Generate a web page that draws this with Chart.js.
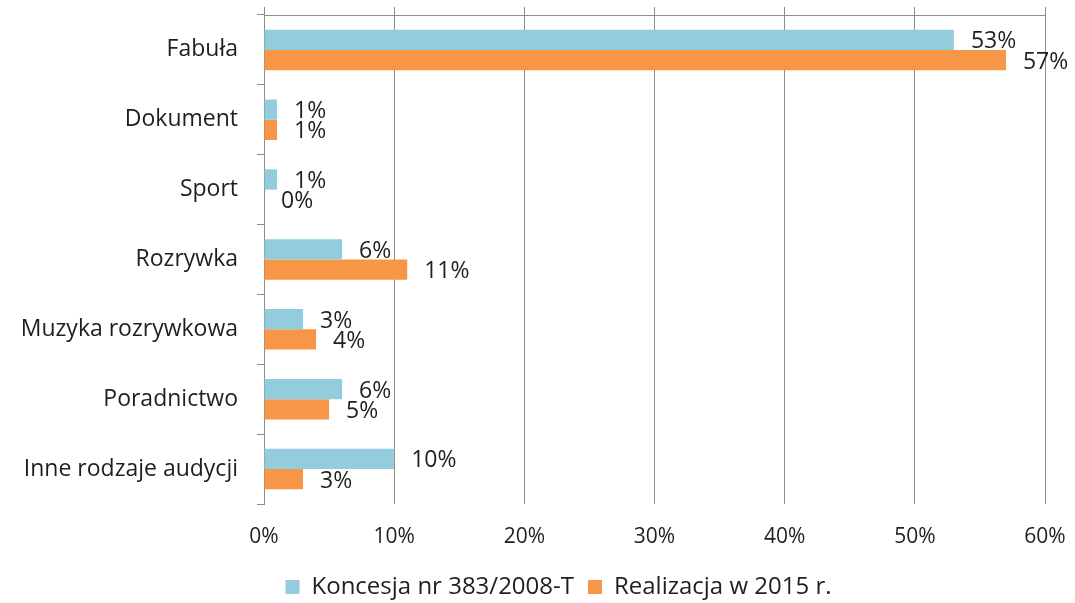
<!DOCTYPE html>
<html>
<head>
<meta charset="utf-8">
<script src="https://cdn.jsdelivr.net/npm/chart.js"></script>
<style>
  html, body { margin: 0; padding: 0; background: #fff; }
  #wrap { width: 1075px; height: 603px; }
</style>
</head>
<body>
<div id="wrap"><canvas id="app" width="1075" height="603"></canvas></div>
<script>
const categories = ['Fabuła', 'Dokument', 'Sport', 'Rozrywka', 'Muzyka rozrywkowa', 'Poradnictwo', 'Inne rodzaje audycji'];
const koncesja = [53, 1, 1, 6, 3, 6, 10];
const realizacja = [57, 1, 0, 11, 4, 5, 3];
const seriesNames = ['Koncesja nr 383/2008-T', 'Realizacja w 2015 r.'];

const FONT = '"Open Sans", "DejaVu Sans", sans-serif';
const TEXT = '#1f1f1f';
const GRID = '#8c8c8c';

// percent labels to the right of each bar end
const valueLabels = {
  id: 'valueLabels',
  afterDatasetsDraw(chart) {
    const { ctx } = chart;
    ctx.save();
    ctx.font = '23px ' + FONT;
    ctx.fillStyle = TEXT;
    ctx.textBaseline = 'middle';
    chart.data.datasets.forEach((ds, i) => {
      chart.getDatasetMeta(i).data.forEach((bar, j) => {
        ctx.fillText(ds.data[j] + '%', bar.x + 17, bar.y + 2);
      });
    });
    ctx.restore();
  }
};

// nudge the legend box a bit right and down after layout
const legendShift = {
  id: 'legendShift',
  afterLayout(chart) {
    const lg = chart.legend;
    if (!lg) return;
    lg.left += 36; lg.right += 36;
    lg.top += 6; lg.bottom += 6;
  }
};

const datasets = [
  { label: seriesNames[0], data: koncesja, backgroundColor: '#93cddd' },
  { label: seriesNames[1], data: realizacja, backgroundColor: '#f79646' }
];

new Chart(document.getElementById('app'), {
  type: 'bar',
  data: { labels: categories, datasets },
  options: {
    indexAxis: 'y',
    responsive: false,
    animation: false,
    categoryPercentage: 0.58,
    barPercentage: 1,
    layout: { padding: { top: 7, right: 30, bottom: 0, left: 0 } },
    scales: {
      x: {
        min: 0,
        max: 60,
        ticks: {
          stepSize: 10,
          padding: 20,
          color: TEXT,
          font: { family: FONT, size: 21 },
          callback: v => v + '%'
        },
        grid: { color: GRID, drawTicks: false },
        border: { display: false },
        afterFit(scale) {
          scale.height = 51;
          scale.paddingLeft = 0;
          scale.paddingRight = 0;
        }
      },
      xTop: {
        position: 'top',
        min: 0,
        max: 60,
        ticks: { display: false, stepSize: 10 },
        grid: { drawOnChartArea: false, tickLength: 8, color: GRID },
        border: { color: GRID }
      },
      y: {
        grid: { drawOnChartArea: false, tickLength: 7, color: GRID, offset: true },
        border: { color: GRID },
        ticks: { padding: 19, color: TEXT, font: { family: FONT, size: 23 } },
        afterFit(scale) {
          scale.width = 264;
          scale.paddingTop = 0;
          scale.paddingBottom = 0;
        }
      }
    },
    plugins: {
      tooltip: { enabled: false },
      legend: {
        position: 'bottom',
        labels: {
          color: TEXT,
          font: { family: FONT, size: 24 },
          boxWidth: 14,
          boxHeight: 14,
          padding: 14
        }
      }
    }
  },
  plugins: [valueLabels, legendShift]
});
</script>
</body>
</html>
